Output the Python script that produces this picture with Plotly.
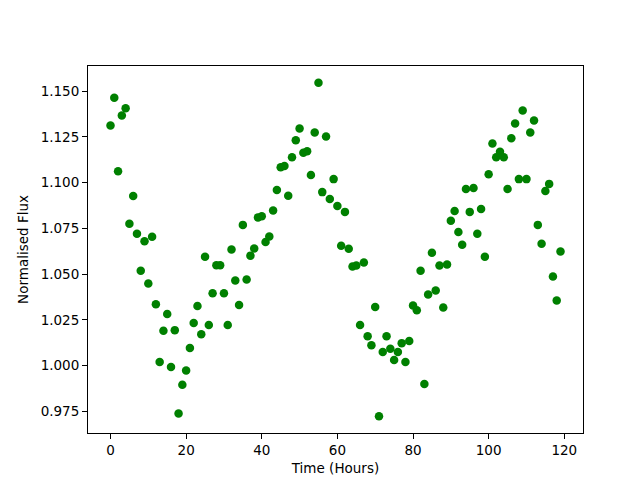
import plotly.graph_objects as go

time_hours = [
    0, 1, 2, 3, 4, 5, 6, 7, 8, 9,
    10, 11, 12, 13, 14, 15, 16, 17, 18, 19,
    20, 21, 22, 23, 24, 25, 26, 27, 28, 29,
    30, 31, 32, 33, 34, 35, 36, 37, 38, 39,
    40, 41, 42, 43, 44, 45, 46, 47, 48, 49,
    50, 51, 52, 53, 54, 55, 56, 57, 58, 59,
    60, 61, 62, 63, 64, 65, 66, 67, 68, 69,
    70, 71, 72, 73, 74, 75, 76, 77, 78, 79,
    80, 81, 82, 83, 84, 85, 86, 87, 88, 89,
    90, 91, 92, 93, 94, 95, 96, 97, 98, 99,
    100, 101, 102, 103, 104, 105, 106, 107, 108, 109,
    110, 111, 112, 113, 114, 115, 116, 117, 118, 119,
]

flux = [
    1.1312, 1.1464, 1.1062, 1.1366, 1.1406, 1.0775, 1.0927, 1.0720, 1.0519, 1.0680,
    1.0449, 1.0704, 1.0336, 1.0020, 1.0190, 1.0282, 0.9993, 1.0194, 0.9738, 0.9895,
    0.9973, 1.0096, 1.0233, 1.0326, 1.0172, 1.0595, 1.0222, 1.0395, 1.0548, 1.0548,
    1.0395, 1.0222, 1.0635, 1.0465, 1.0331, 1.0769, 1.0471, 1.0601, 1.0640, 1.0810,
    1.0816, 1.0675, 1.0706, 1.0847, 1.0959, 1.1084, 1.1091, 1.0928, 1.1138, 1.1231,
    1.1296, 1.1163, 1.1171, 1.1041, 1.1274, 1.1546, 1.0948, 1.1252, 1.0910, 1.1019,
    1.0872, 1.0655, 1.0840, 1.0639, 1.0541, 1.0547, 1.0222, 1.0563, 1.0161, 1.0112,
    1.0320, 0.9723, 1.0074, 1.0161, 1.0092, 1.0031, 1.0074, 1.0123, 1.0020, 1.0134,
    1.0329, 1.0302, 1.0519, 0.9900, 1.0389, 1.0617, 1.0411, 1.0547, 1.0318, 1.0552,
    1.0791, 1.0845, 1.0730, 1.0661, 1.0965, 1.0840, 1.0970, 1.0720, 1.0856, 1.0595,
    1.1046, 1.1214, 1.1138, 1.1169, 1.1138, 1.0965, 1.1242, 1.1323, 1.1019, 1.1394,
    1.1019, 1.1274, 1.1339, 1.0769, 1.0666, 1.0954, 1.0993, 1.0487, 1.0356, 1.0624,
]

x_ticks = [0, 20, 40, 60, 80, 100, 120]
y_ticks = [0.975, 1.000, 1.025, 1.050, 1.075, 1.100, 1.125, 1.150]

fig = go.Figure()
fig.add_trace(go.Scatter(
    x=time_hours, y=flux, mode="markers",
    marker=dict(color="#008000", size=8.5, line=dict(width=0)),
    showlegend=False,
))

font = dict(family="DejaVu Sans", size=13.5, color="black")
axis_common = dict(
    showline=True, linecolor="black", linewidth=1, mirror=True,
    ticks="outside", ticklen=5, tickwidth=1, tickcolor="black",
    showgrid=False, zeroline=False, tickfont=font, automargin=False,
)
fig.update_layout(
    width=640, height=480,
    margin=dict(l=80, r=65, t=58, b=55),
    paper_bgcolor="white", plot_bgcolor="white",
    font=font,
    xaxis=dict(range=[-5.95, 124.95], tickvals=x_ticks,
               title=dict(text="Time (Hours)", font=font, standoff=6), **axis_common),
    yaxis=dict(range=[0.9632, 1.1637], tickvals=y_ticks, tickformat=".3f",
               title=dict(text="Normalised Flux", font=font, standoff=8), **axis_common),
)
fig.write_html("out.html")
